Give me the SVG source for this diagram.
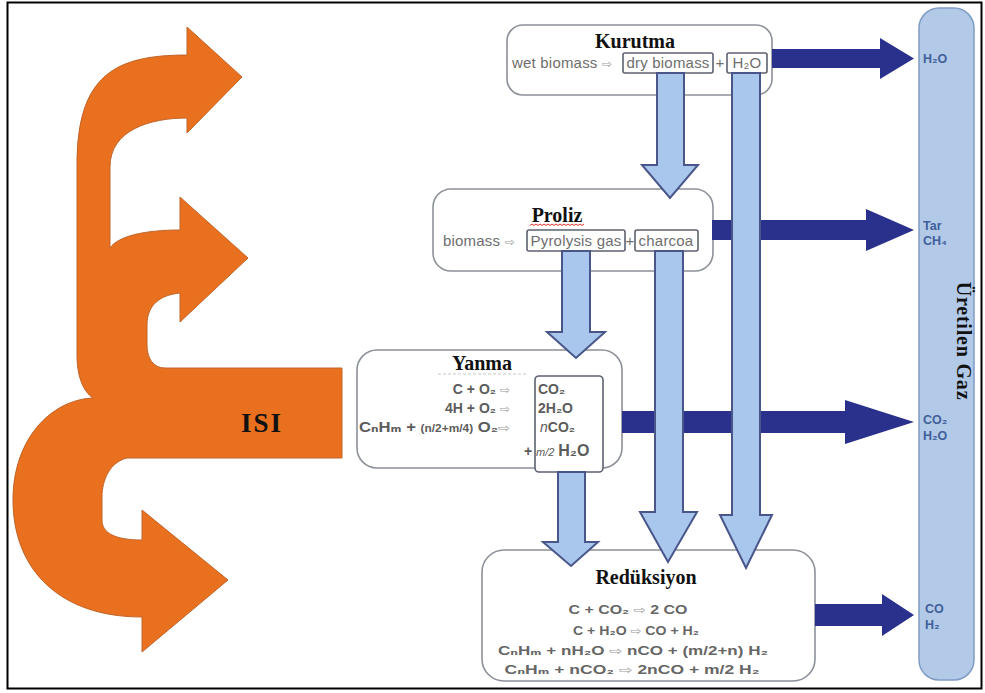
<svg xmlns="http://www.w3.org/2000/svg" width="985" height="693" viewBox="0 0 985 693">
<defs>
<style>
.title{font-family:"Liberation Serif","Times New Roman",serif;font-weight:bold;font-size:20px;fill:#111;text-anchor:middle}
.row{font-family:"Liberation Sans","DejaVu Sans",sans-serif;font-size:15px;fill:#6e6e6e;letter-spacing:0.2px}
.eq{font-family:"Liberation Sans","DejaVu Sans",sans-serif;font-size:14px;font-weight:bold;fill:#5c5c5c}
.req{font-family:"Liberation Sans","DejaVu Sans",sans-serif;font-size:13px;font-weight:bold;fill:#666;text-anchor:middle}
.sym{font-family:"DejaVu Sans",sans-serif;font-size:12px;font-weight:normal;fill:#9a9a9a}
.box{fill:#fff;stroke:#8c9099;stroke-width:1.6}
.ibox{fill:#fff;stroke:#5d6270;stroke-width:1.6}
.lb{fill:#a9c6ec;stroke:#48568a;stroke-width:2;stroke-linejoin:miter}
.db{fill:#2a318c}
.gas{font-family:"Liberation Sans","DejaVu Sans",sans-serif;font-size:12.5px;font-weight:bold;fill:#41609a}
</style>
</defs>
<rect x="0" y="0" width="985" height="693" fill="#fff"/>
<rect x="7.5" y="2.5" width="974" height="686" fill="none" stroke="#000" stroke-width="2"/>

<g id="isi">
<path d="M242,77 L187,133 L187,118 C150,118 110,130 110,167 L110,248 C118,236 145,230 180,230 L180,197 L248,258 L180,322 L180,293 C160,295 147,305 147,325 L147,345 C147,358 153,368 165,368 L342,368 L342,458 L127,458 C110,462 102,480 102,497 L102,520 C102,533 115,540 142,540 L142,510 L228,580 L142,652 L142,617 C60,617 13,570 13,500 C13,440 50,400 93,398 C84,392 77,378 77,355 L77,165 C77,75 115,55 187,55 L187,27 Z" fill="#e8701e" stroke="#c0652a" stroke-width="1"/>
<text x="262" y="432" font-family="Liberation Serif,serif" font-weight="bold" font-size="27" letter-spacing="2" text-anchor="middle" fill="#111">ISI</text>
</g>

<g id="gas">
<rect x="919" y="8" width="55" height="672" rx="20" fill="#b2cae8" stroke="#7f9cc3" stroke-width="1.5"/>
<text class="gas" x="923" y="63">H₂O</text>
<text class="gas" x="923" y="230">Tar</text>
<text class="gas" x="923" y="245">CH₄</text>
<text class="gas" x="923" y="424">CO₂</text>
<text class="gas" x="923" y="440">H₂O</text>
<text class="gas" x="925" y="613">CO</text>
<text class="gas" x="925" y="629">H₂</text>
<text x="962" y="341" transform="rotate(90 962 341)" font-family="Liberation Serif,serif" font-weight="bold" font-size="20" letter-spacing="0.8" text-anchor="middle" dominant-baseline="middle" fill="#111">Üretilen Gaz</text>
</g>

<g id="kurutma">
<rect class="box" x="507" y="25" width="265" height="70" rx="16"/>
<text class="title" x="635" y="48">Kurutma</text>
<rect class="ibox" x="623" y="53" width="90" height="20" rx="2"/>
<rect class="ibox" x="727" y="53" width="40" height="20" rx="2"/>
<text class="row" x="512" y="68">wet biomass <tspan class="sym">⇨</tspan></text>
<text class="row" x="668" y="68" text-anchor="middle">dry biomass</text>
<text class="row" x="720" y="68" text-anchor="middle">+</text>
<text class="row" x="747" y="68" text-anchor="middle">H₂O</text>
</g>

<g id="proliz">
<rect class="box" x="433" y="189" width="280" height="82" rx="18"/>
<text class="title" x="557" y="222">Proliz</text>
<path d="M530,225.5 l2,-1.5 l2,1.5 l2,-1.5 l2,1.5 l2,-1.5 l2,1.5 l2,-1.5 l2,1.5 l2,-1.5 l2,1.5 l2,-1.5 l2,1.5 l2,-1.5 l2,1.5 l2,-1.5 l2,1.5 l2,-1.5 l2,1.5 l2,-1.5 l2,1.5 l2,-1.5 l2,1.5 l2,-1.5 l2,1.5 l2,-1.5 l2,1.5 l2,-1.5" fill="none" stroke="#d9342b" stroke-width="1"/>
<rect class="ibox" x="527" y="230" width="98" height="21" rx="2"/>
<rect class="ibox" x="635" y="230" width="63" height="21" rx="2"/>
<text class="row" x="443" y="246">biomass <tspan class="sym">⇨</tspan></text>
<text class="row" x="576" y="246" text-anchor="middle">Pyrolysis gas</text>
<text class="row" x="630" y="246" text-anchor="middle">+</text>
<text class="row" x="666" y="246" text-anchor="middle">charcoa</text>
</g>

<g id="yanma">
<rect class="box" x="357" y="350" width="265" height="118" rx="20"/>
<text class="title" x="482" y="370">Yanma</text>
<line x1="438" y1="374" x2="528" y2="374" stroke="#c8c8c8" stroke-width="1.2" stroke-dasharray="3 2"/>
<rect class="ibox" x="535" y="376" width="68" height="96" rx="4"/>
<text class="eq" x="510" y="394" text-anchor="end">C + O₂ <tspan class="sym">⇨</tspan></text>
<text class="eq" x="538" y="394">CO₂</text>
<text class="eq" x="510" y="413" text-anchor="end">4H + O₂ <tspan class="sym">⇨</tspan></text>
<text class="eq" x="538" y="413">2H₂O</text>
<text class="eq" x="359" y="432" textLength="151" lengthAdjust="spacingAndGlyphs">CₙHₘ + <tspan font-size="10">(n/2+m/4)</tspan> O₂<tspan class="sym">⇨</tspan></text>
<text class="eq" x="540" y="432"><tspan font-weight="normal" font-style="italic">n</tspan>CO₂</text>
<text class="eq" x="524" y="456">+ <tspan font-size="11" font-weight="normal" font-style="italic">m/2</tspan> <tspan font-size="16">H₂O</tspan></text>
</g>

<g id="reduksiyon">
<rect class="box" x="482" y="550" width="333" height="131" rx="22"/>
<text class="title" x="646" y="584">Redüksiyon</text>
<text class="req" x="628" y="614" textLength="119" lengthAdjust="spacingAndGlyphs">C + CO₂ <tspan class="sym">⇨</tspan> 2 CO</text>
<text class="req" x="636" y="635" textLength="126" lengthAdjust="spacingAndGlyphs">C + H₂O <tspan class="sym">⇨</tspan> CO + H₂</text>
<text class="req" x="633" y="655" textLength="270" lengthAdjust="spacingAndGlyphs">CₙHₘ + nH₂O <tspan class="sym">⇨</tspan> nCO + (m/2+n) H₂</text>
<text class="req" x="632" y="674" textLength="255" lengthAdjust="spacingAndGlyphs">CₙHₘ + nCO₂ <tspan class="sym">⇨</tspan> 2nCO + m/2 H₂</text>
</g>

<g id="connectors">
<polygon class="db" points="772,49 880,49 880,38 914,58.5 880,79 880,68 772,68"/>
<polygon class="db" points="712,220 866,220 866,209 914,230 866,251 866,240 712,240"/>
<polygon class="db" points="622,411 845,411 845,400 914,422 845,444 845,433 622,433"/>
<polygon class="db" points="815,604 882,604 882,594 914,615 882,636 882,626 815,626"/>
<polygon class="lb" points="657,73 684,73 684,165 698,165 670,198 642,165 657,165"/>
<polygon class="lb" points="562,251 590,251 590,332 605,332 576,358 547,332 562,332"/>
<polygon class="lb" points="655,251 683,251 683,512 697,512 668,562 640,512 655,512"/>
<polygon class="lb" points="732,73 760,73 760,515 772,515 746,568 720,515 732,515"/>
<polygon class="lb" points="558,472 585,472 585,542 598,542 571,566 543,542 558,542"/>
</g>
</svg>
